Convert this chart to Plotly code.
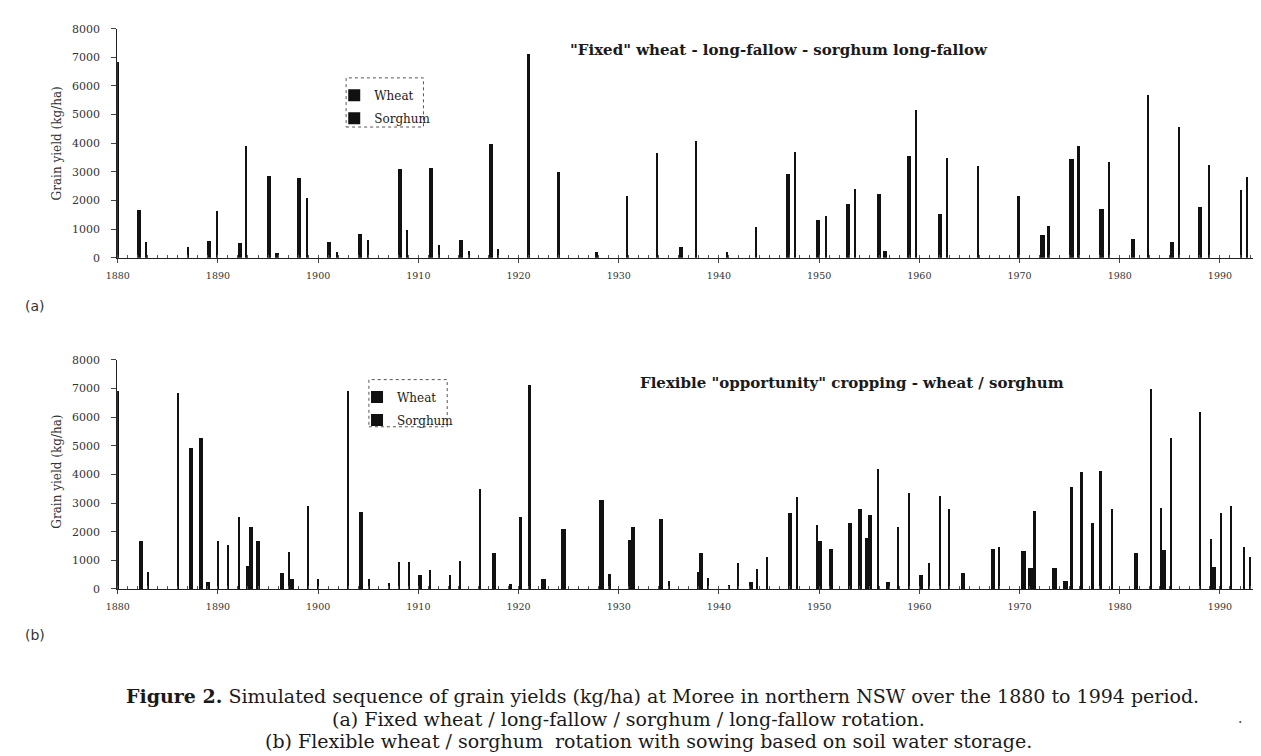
import plotly.graph_objects as go

# ---------------- data (years, kg/ha) ----------------
# (a) Fixed wheat - long-fallow - sorghum - long-fallow
a_wheat_year = [1882.1, 1889.1, 1892.2, 1895.1, 1895.9, 1898.1, 1901.1, 1904.2, 1908.2, 1911.3,
                1914.3, 1917.3, 1936.2, 1946.9, 1949.9, 1952.9, 1956.0, 1956.6, 1959.0, 1962.1,
                1972.3, 1975.2, 1978.2, 1981.3, 1985.2, 1988.0]
a_wheat_yield = [1660, 595, 515, 2860, 185, 2790, 570, 850, 3120, 3160,
                 640, 3970, 375, 2950, 1330, 1900, 2250, 230, 3580, 1540,
                 820, 3470, 1710, 650, 560, 1790]
a_sorghum_year = [1880.0, 1882.8, 1887.0, 1889.9, 1892.8, 1898.9, 1901.9, 1905.0, 1908.9, 1912.1,
                  1915.1, 1918.0, 1921.0, 1924.0, 1927.8, 1930.8, 1933.8, 1937.7, 1940.8, 1943.7,
                  1947.6, 1950.7, 1953.6, 1959.7, 1962.8, 1965.9, 1969.9, 1972.9, 1975.9, 1978.9,
                  1982.8, 1985.9, 1988.9, 1992.1, 1992.7]
a_sorghum_yield = [6850, 560, 390, 1625, 3910, 2080, 195, 620, 995, 460,
                   250, 310, 7130, 2990, 200, 2170, 3660, 4070, 220, 1090,
                   3720, 1460, 2420, 5180, 3480, 3200, 2150, 1120, 3930, 3340,
                   5680, 4580, 3260, 2380, 2840]

# (b) Flexible "opportunity" cropping - wheat / sorghum
b_wheat_year = [1882.3, 1887.3, 1888.3, 1889.0, 1893.0, 1893.3, 1894.0, 1896.4, 1897.4, 1904.3,
                1910.2, 1917.6, 1922.5, 1924.5, 1928.3, 1931.1, 1931.4, 1934.2, 1938.0, 1938.2,
                1943.2, 1947.1, 1950.1, 1951.2, 1953.1, 1954.1, 1954.8, 1955.1, 1956.9, 1960.2,
                1964.4, 1967.4, 1970.4, 1971.1, 1973.5, 1974.6, 1981.6, 1984.4, 1989.4]
b_wheat_yield = [1680, 4920, 5290, 230, 800, 2160, 1660, 560, 365, 2680,
                 480, 1270, 355, 2090, 3120, 1720, 2160, 2430, 610, 1270,
                 250, 2660, 1690, 1400, 2290, 2800, 1780, 2600, 250, 480,
                 560, 1400, 1340, 740, 720, 270, 1250, 1370, 770]
b_sorghum_year = [1880.0, 1883.0, 1886.0, 1890.0, 1891.0, 1892.1, 1897.1, 1899.0, 1900.0, 1903.0,
                  1905.1, 1907.1, 1908.1, 1909.1, 1911.2, 1913.2, 1914.2, 1916.2, 1919.2, 1920.2,
                  1921.1, 1929.1, 1935.0, 1938.9, 1941.0, 1941.9, 1943.8, 1944.8, 1947.8, 1949.8,
                  1955.9, 1957.9, 1959.0, 1961.0, 1962.1, 1963.0, 1968.0, 1971.5, 1975.2, 1976.2,
                  1977.3, 1978.1, 1979.2, 1983.1, 1984.1, 1985.1, 1988.0, 1989.1, 1990.1, 1991.1,
                  1992.4, 1993.0]
b_sorghum_yield = [6900, 595, 6850, 1680, 1545, 2505, 1280, 2900, 340, 6900,
                   365, 215, 940, 940, 650, 480, 970, 3480, 160, 2520,
                   7110, 515, 290, 400, 150, 915, 690, 1120, 3215, 2240,
                   4200, 2160, 3350, 900, 3240, 2780, 1470, 2720, 3570, 4070,
                   2290, 4120, 2780, 7000, 2840, 5290, 6180, 1740, 2660, 2890,
                   1470, 1120]

year_ticks = list(range(1880, 1991, 10))
yield_ticks = list(range(0, 8001, 1000))

SERIF = "DejaVu Serif"
W, H = 1261, 756
INK = "#1a1a1a"


def px(x):
    return x / W


def py(y):
    return 1 - y / H


fig = go.Figure()

panels = [
    ("x", "y", "legend", a_wheat_year, a_wheat_yield, a_sorghum_year, a_sorghum_yield),
    ("x2", "y2", "legend2", b_wheat_year, b_wheat_yield, b_sorghum_year, b_sorghum_yield),
]
for i, (xa, ya, lg, wy, wv, sy, sv) in enumerate(panels):
    fig.add_trace(go.Bar(x=wy, y=wv, name="Wheat", width=0.42, xaxis=xa, yaxis=ya, legend=lg,
                         legendgroup=f"w{i}", marker=dict(color="#111111", line=dict(width=0))))
    fig.add_trace(go.Bar(x=sy, y=sv, name="Sorghum", width=0.22, xaxis=xa, yaxis=ya, legend=lg,
                         legendgroup=f"s{i}", marker=dict(color="#111111", line=dict(width=0))))

xdom = [px(99), px(1255)]
xrange_ = [1879.94, 1994.3]
axis_common_x = dict(
    range=xrange_, domain=xdom, tickmode="array", tickvals=year_ticks,
    ticktext=[str(t) for t in year_ticks], showline=True, linecolor="#222222", linewidth=1,
    ticks="outside", ticklen=4, tickcolor="#444444", showgrid=False, zeroline=False,
    ticklabelstandoff=5,
    tickfont=dict(family=SERIF, size=9.5, color="#333333"),
    minor=dict(ticks="inside", ticklen=3, dtick=1, tick0=1880, tickcolor="#555555", showgrid=False),
)
axis_common_y = dict(
    range=[0, 8000], tickvals=yield_ticks, showline=True, linecolor="#222222", linewidth=1,
    ticks="outside", ticklen=5, tickcolor="#444444", showgrid=False, zeroline=False,
    ticklabelstandoff=9,
    tickfont=dict(family=SERIF, size=11, color="#333333"),
)

legend_style = dict(xanchor="left", yanchor="top", bgcolor="rgba(0,0,0,0)",
                    font=dict(family=SERIF, size=12, color=INK), tracegroupgap=4, itemwidth=30)

fig.update_layout(
    width=W, height=H, margin=dict(l=0, r=0, t=0, b=0),
    paper_bgcolor="white", plot_bgcolor="white",
    barmode="overlay", bargap=0,
    xaxis=dict(anchor="y", **axis_common_x),
    yaxis=dict(anchor="x", domain=[py(248), py(15)], **axis_common_y),
    xaxis2=dict(anchor="y2", **axis_common_x),
    yaxis2=dict(anchor="x2", domain=[py(585), py(352)], **axis_common_y),
    legend=dict(x=px(318), y=py(68), **legend_style),
    legend2=dict(x=px(341), y=py(375), **legend_style),
    showlegend=True,
)

# dotted legend frames
for x0, y0, x1, y1 in [(330, 65, 408, 115), (353, 372, 432, 420)]:
    fig.add_shape(type="rect", xref="paper", yref="paper", x0=px(x0), x1=px(x1), y0=py(y1), y1=py(y0),
                  line=dict(color="#555555", width=1, dash="dot"), fillcolor="rgba(0,0,0,0)")

ann = []
# panel titles
ann.append(dict(text='<b>"Fixed" wheat - long-fallow - sorghum long-fallow</b>', x=px(767), y=py(37),
                font=dict(family=SERIF, size=15, color=INK)))
ann.append(dict(text='<b>Flexible "opportunity" cropping - wheat / sorghum</b>', x=px(840), y=py(375),
                font=dict(family=SERIF, size=15, color=INK)))
# y titles
for yc in (132, 466):
    ann.append(dict(text="Grain yield (kg/ha)", x=px(38), y=py(yc), textangle=-90,
                    font=dict(family=SERIF, size=12, color="#333333")))
# panel letters
ann.append(dict(text="(a)", x=px(16), y=py(297), font=dict(family="DejaVu Sans", size=14, color="#333333")))
ann.append(dict(text="(b)", x=px(16), y=py(632), font=dict(family="DejaVu Sans", size=14, color="#333333")))
# caption
ann.append(dict(text="<b>Figure 2.</b> Simulated sequence of grain yields (kg/ha) at Moree in northern NSW over the 1880 to 1994 period.",
                x=px(649), y=py(694), font=dict(family=SERIF, size=19, color=INK)))
ann.append(dict(text="(a) Fixed wheat / long-fallow / sorghum / long-fallow rotation.",
                x=px(615), y=py(717), font=dict(family=SERIF, size=19, color=INK)))
ann.append(dict(text="(b) Flexible wheat / sorghum  rotation with sowing based on soil water storage.",
                x=px(635), y=py(740), font=dict(family=SERIF, size=19, color=INK)))
ann.append(dict(text=".", x=px(1232), y=py(716), font=dict(family=SERIF, size=14, color="#444444")))

for a in ann:
    a.update(xref="paper", yref="paper", showarrow=False, xanchor="center", yanchor="middle")
    fig.add_annotation(**a)

fig.write_html("out.html")
